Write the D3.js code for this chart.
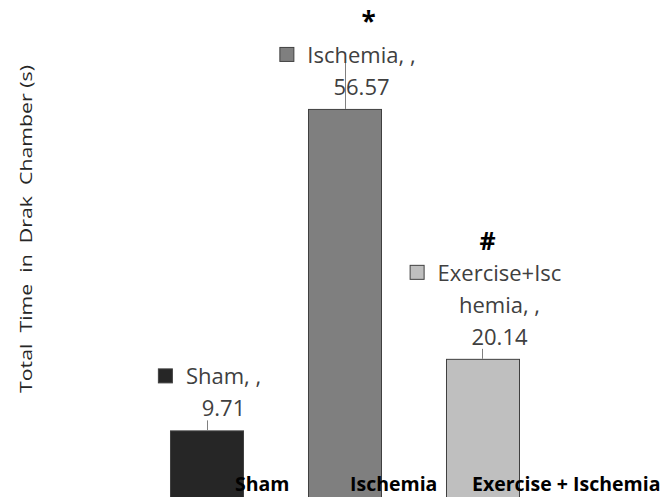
<!DOCTYPE html>
<html>
<head>
<meta charset="utf-8">
<script src="https://cdn.jsdelivr.net/npm/d3@7/dist/d3.min.js"></script>
<style>
  html, body { margin: 0; padding: 0; background: #ffffff; }
  svg { display: block; }
</style>
</head>
<body>
<svg id="chart" width="665" height="497"></svg>
<script>
// ---- data ----
const categories = ["Sham", "Ischemia", "Exercise + Ischemia"];
const seriesNames = ["Sham", "Ischemia", "Exercise+Ischemia"];
const values = [9.71, 56.57, 20.14];
const significance = ["", "*", "#"];
const yAxisTitle = "Total  Time  in  Drak  Chamber (s)";
const barColors = ["#262626", "#7f7f7f", "#bfbfbf"];

// ---- layout ----
const svg = d3.select("#chart");
const font = "'Open Sans', 'DejaVu Sans', sans-serif";

const x = d3.scaleBand()
  .domain(categories)
  .range([101, 588])
  .paddingInner(0.471)
  .paddingOuter(0.5);

const y = d3.scaleLinear()
  .domain([0, 72.45])
  .range([497, 0]);

// bars
svg.append("g").selectAll("rect")
  .data(categories)
  .join("rect")
  .attr("x", d => x(d) + 0.5)
  .attr("y", (d, i) => y(values[i]) + 0.5)
  .attr("width", x.bandwidth())
  .attr("height", (d, i) => y(0) - y(values[i]) + 2)
  .attr("fill", (d, i) => barColors[i])
  .attr("stroke", "#404040")
  .attr("stroke-width", 1);

// data labels
const lineH = 32;
const fs = 22;
function wrapName(name) {
  const full = name + ", ,";
  if (full.length <= 12) return [full];
  return [full.slice(0, 12), full.slice(12).trim()];
}
const leaderMode = ["value", "first", "value"];

categories.forEach((c, i) => {
  const cx = x(c) + x.bandwidth() / 2;
  const top = y(values[i]);
  const lines = wrapName(seriesNames[i]).concat([values[i].toFixed(2)]);
  const textCx = cx + 17;
  const valueBase = top - 14;
  const firstBase = valueBase - lineH * (lines.length - 1);
  const g = svg.append("g");

  // leader line
  const leaderTop = leaderMode[i] === "value" ? valueBase + 4 : firstBase - 4;
  g.append("line")
    .attr("x1", Math.round(cx) + 0.5).attr("x2", Math.round(cx) + 0.5)
    .attr("y1", top).attr("y2", leaderTop)
    .attr("stroke", "#808080").attr("stroke-width", 1);

  const texts = lines.map((t, k) => g.append("text")
    .attr("x", textCx)
    .attr("y", firstBase + k * lineH)
    .attr("text-anchor", "middle")
    .attr("font-family", font)
    .attr("font-size", fs)
    .attr("fill", "#404040")
    .text(t));

  // legend key square before the first line
  const bb = texts[0].node().getBBox();
  g.append("rect")
    .attr("x", bb.x - 27.5)
    .attr("y", firstBase - 15.5)
    .attr("width", 14)
    .attr("height", 14)
    .attr("fill", barColors[i])
    .attr("stroke", "#404040")
    .attr("stroke-width", 1);

  // significance mark
  if (significance[i]) {
    const isStar = significance[i] === "*";
    g.append("text")
      .attr("x", isStar ? cx + 24 : cx + 5)
      .attr("y", firstBase - (isStar ? 32 : 31))
      .attr("text-anchor", "middle")
      .attr("font-family", font)
      .attr("font-weight", "bold")
      .attr("font-size", isStar ? 26 : 25)
      .attr("fill", "#000")
      .text(significance[i]);
  }
});

// category labels (bottom)
const catDx = [65, 42, 26];
svg.append("g").selectAll("text")
  .data(categories)
  .join("text")
  .attr("x", (d, i) => x(d) + catDx[i])
  .attr("y", 491)
  .attr("font-family", font)
  .attr("font-weight", "bold")
  .attr("font-size", 19.5)
  .attr("fill", "#000")
  .text(d => d);

// y-axis title
svg.append("text")
  .attr("transform", "translate(32,229) rotate(-90)")
  .attr("text-anchor", "middle")
  .attr("font-family", font)
  .attr("font-size", 16)
  .attr("fill", "#262626")
  .attr("xml:space", "preserve")
  .style("white-space", "pre")
  .attr("textLength", 328)
  .attr("lengthAdjust", "spacingAndGlyphs")
  .text(yAxisTitle);
</script>
</body>
</html>
